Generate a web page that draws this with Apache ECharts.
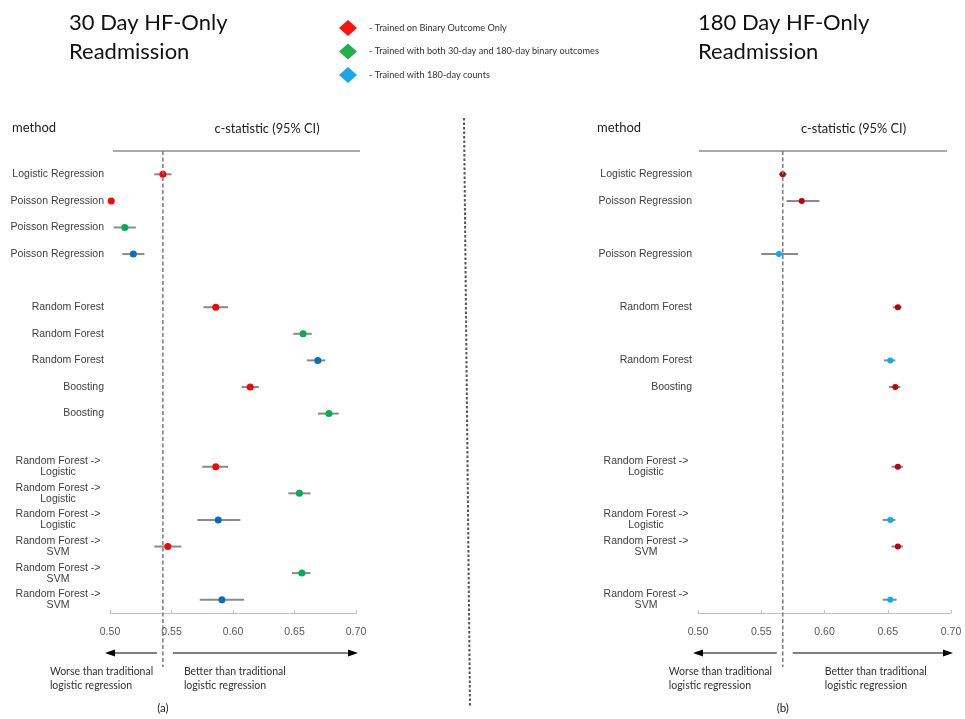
<!DOCTYPE html>
<html>
<head>
<meta charset="utf-8">
<script src="https://cdn.jsdelivr.net/npm/echarts@6/dist/echarts.min.js"></script>
<style>
  html, body { margin: 0; padding: 0; background: #fff; }
  #chart { width: 965px; height: 719px; }
</style>
</head>
<body>
<div id="chart"></div>
<script>
// Row labels (top to bottom) for each panel; '' marks an empty spacer row
const rows30 = [
  'Logistic Regression', 'Poisson Regression', 'Poisson Regression', 'Poisson Regression', '',
  'Random Forest', 'Random Forest', 'Random Forest', 'Boosting', 'Boosting', '',
  'Random Forest ->\nLogistic', 'Random Forest ->\nLogistic', 'Random Forest ->\nLogistic',
  'Random Forest ->\nSVM', 'Random Forest ->\nSVM', 'Random Forest ->\nSVM'
];
const rows180 = [
  'Logistic Regression', 'Poisson Regression', '', 'Poisson Regression', '',
  'Random Forest', '', 'Random Forest', 'Boosting', '', '',
  'Random Forest ->\nLogistic', '', 'Random Forest ->\nLogistic',
  'Random Forest ->\nSVM', '', 'Random Forest ->\nSVM'
];

// Each entry: [row index, c-statistic, lower 95% CI, upper 95% CI]
const binary30 = [
  [0, 0.543, 0.536, 0.550],
  [1, 0.501, 0.501, 0.501],
  [5, 0.586, 0.576, 0.596],
  [8, 0.614, 0.607, 0.621],
  [11, 0.586, 0.575, 0.596],
  [14, 0.547, 0.536, 0.558]
];
const both30 = [
  [2, 0.512, 0.503, 0.521],
  [6, 0.657, 0.649, 0.664],
  [9, 0.678, 0.669, 0.686],
  [12, 0.654, 0.645, 0.663],
  [15, 0.656, 0.648, 0.663]
];
const counts30 = [
  [3, 0.519, 0.510, 0.528],
  [7, 0.669, 0.660, 0.675],
  [13, 0.588, 0.571, 0.606],
  [16, 0.591, 0.573, 0.609]
];
const binary180 = [
  [0, 0.567, 0.564, 0.570],
  [1, 0.582, 0.570, 0.596],
  [5, 0.658, 0.654, 0.661],
  [8, 0.656, 0.651, 0.660],
  [11, 0.658, 0.653, 0.662],
  [14, 0.658, 0.653, 0.662]
];
const counts180 = [
  [3, 0.564, 0.550, 0.579],
  [7, 0.652, 0.647, 0.656],
  [13, 0.652, 0.646, 0.656],
  [16, 0.652, 0.646, 0.657]
];

const xTicks = [0.50, 0.55, 0.60, 0.65, 0.70];
const legendNames = [
  '- Trained on Binary Outcome Only',
  '- Trained with both 30-day and 180-day binary outcomes',
  '- Trained with 180-day counts'
];
const legendColors = ['#ff1010', '#22b04a', '#1aa7e6'];

const LABEL_FONT = 'Liberation Sans, Arial, sans-serif';
const TEXT_FONT = 'Lato, "Open Sans", sans-serif';

const chart = echarts.init(document.getElementById('chart'));

function catAxis(gridIndex, labels) {
  return {
    type: 'category', gridIndex, data: labels, inverse: true,
    axisLine: { show: false }, axisTick: { show: false }, splitLine: { show: false },
    axisLabel: {
      margin: 6, fontFamily: LABEL_FONT, fontSize: 10.5, color: '#404040', lineHeight: 11,
      formatter: v => v.indexOf('\n') >= 0
        ? v.split('\n').map(s => '{c|' + s + '}').join('\n')
        : v,
      rich: { c: { width: 92, align: 'center', fontFamily: LABEL_FONT, fontSize: 10.5, color: '#404040', lineHeight: 11 } }
    }
  };
}
function valAxis(gridIndex) {
  return {
    type: 'value', gridIndex, min: xTicks[0], max: xTicks[xTicks.length - 1],
    interval: xTicks[1] - xTicks[0],
    axisLine: { show: true, lineStyle: { color: '#c0c0c0', width: 1 } },
    axisTick: { show: true, inside: true, length: 3, lineStyle: { color: '#c0c0c0' } },
    splitLine: { show: false },
    axisLabel: { margin: 14, fontFamily: LABEL_FONT, fontSize: 10.5, color: '#595959', formatter: v => v.toFixed(2) }
  };
}
function ciSeries(name, data, axisIdx) {
  return {
    type: 'custom', name: name + ' CI', xAxisIndex: axisIdx, yAxisIndex: axisIdx,
    data: data.map(d => [d[2], d[3], d[0]]),
    encode: { x: [0, 1], y: 2 }, silent: true, z: 2,
    renderItem: (params, api) => {
      const a = api.coord([api.value(0), api.value(2)]);
      const b = api.coord([api.value(1), api.value(2)]);
      return { type: 'line', shape: { x1: a[0], y1: a[1], x2: b[0], y2: b[1] },
               style: { stroke: '#8a8a8a', lineWidth: 2 } };
    }
  };
}
function pointSeries(name, data, axisIdx, color, size) {
  return {
    type: 'scatter', name, xAxisIndex: axisIdx, yAxisIndex: axisIdx, z: 3,
    symbol: 'circle', symbolSize: size,
    itemStyle: { color, opacity: 1 },
    data: data.map(d => [d[1], d[0]])
  };
}

chart.setOption({
  animation: false,
  title: [
    { text: '30 Day HF-Only\nReadmission', left: 64, top: 3,
      textStyle: { fontFamily: TEXT_FONT, fontSize: 22, fontWeight: 'normal', color: '#111', lineHeight: 29 } },
    { text: '180 Day HF-Only\nReadmission', left: 693, top: 3,
      textStyle: { fontFamily: TEXT_FONT, fontSize: 22, fontWeight: 'normal', color: '#111', lineHeight: 29 } }
  ],
  legend: {
    orient: 'vertical', left: 334, top: 15, itemGap: 7.5, itemWidth: 18, itemHeight: 16,
    icon: 'diamond', selectedMode: false,
    textStyle: { fontFamily: TEXT_FONT, fontSize: 9.2, color: '#333', padding: [0, 0, 0, 7] },
    data: legendNames.map((n, i) => ({ name: n, itemStyle: { color: legendColors[i] } }))
  },
  grid: [
    { left: 110, width: 246, top: 161, height: 452 },
    { left: 698, width: 253, top: 161, height: 452 }
  ],
  xAxis: [valAxis(0), valAxis(1)],
  yAxis: [catAxis(0, rows30), catAxis(1, rows180)],
  series: [
    ciSeries(legendNames[0], binary30, 0),
    ciSeries(legendNames[1], both30, 0),
    ciSeries(legendNames[2], counts30, 0),
    pointSeries(legendNames[0], binary30, 0, '#ff0000', 7),
    pointSeries(legendNames[1], both30, 0, '#00b050', 7),
    pointSeries(legendNames[2], counts30, 0, '#0070c0', 7),
    ciSeries('180-day binary', binary180, 1),
    ciSeries('180-day counts', counts180, 1),
    pointSeries('180-day binary', binary180, 1, '#c00000', 6),
    pointSeries('180-day counts', counts180, 1, '#00b0f0', 6)
  ]
});

// Reference lines, headers, arrows and captions placed from each panel's axes
function panelGraphics(gridIndex, refValue, caption, methodX, ruleX1, ruleX2, betterDx) {
  const p0 = chart.convertToPixel({ gridIndex }, [xTicks[0], 0]);
  const p1 = chart.convertToPixel({ gridIndex }, [xTicks[xTicks.length - 1], 0]);
  const ref = chart.convertToPixel({ gridIndex }, [refValue, 0])[0];
  const x0 = p0[0], x1 = p1[0];
  const arrowY = 653;
  const els = [];
  // header rule
  els.push({ type: 'line', shape: { x1: ruleX1, y1: 151, x2: ruleX2, y2: 151 },
             style: { stroke: '#8c8c8c', lineWidth: 1.5 } });
  els.push({ type: 'text', left: methodX, top: 121, style: { text: 'method', font: '13px ' + TEXT_FONT, fill: '#222' } });
  els.push({ type: 'text', x: (ruleX1 + ruleX2) / 2 + 30.5, y: 129,
             style: { text: 'c-statistic (95% CI)', font: '12.8px ' + TEXT_FONT, fill: '#222', textAlign: 'center', textVerticalAlign: 'middle' } });
  // dashed reference at traditional logistic regression
  els.push({ type: 'line', z: 10, shape: { x1: ref, y1: 151, x2: ref, y2: 667 },
             style: { stroke: '#7a7a7a', lineWidth: 1.5, lineDash: [4, 2.5] } });
  // arrows
  const leftTail = ref - 6, rightTail = ref + 10;
  els.push({ type: 'line', shape: { x1: leftTail, y1: arrowY, x2: x0 + 4, y2: arrowY }, style: { stroke: '#000', lineWidth: 1 } });
  els.push({ type: 'polygon', shape: { points: [[x0 - 5, arrowY], [x0 + 5, arrowY - 3.5], [x0 + 5, arrowY + 3.5]] }, style: { fill: '#000' } });
  els.push({ type: 'line', shape: { x1: rightTail, y1: arrowY, x2: x1 - 2, y2: arrowY }, style: { stroke: '#000', lineWidth: 1 } });
  els.push({ type: 'polygon', shape: { points: [[x1 + 2, arrowY], [x1 - 8, arrowY - 3.5], [x1 - 8, arrowY + 3.5]] }, style: { fill: '#000' } });
  // captions
  els.push({ type: 'text', left: ref - 113 - (gridIndex === 0 ? 0 : 1), top: 665,
             style: { text: 'Worse than traditional\nlogistic regression', font: '10.5px ' + TEXT_FONT, fill: '#333', lineHeight: 14 } });
  els.push({ type: 'text', left: ref + betterDx, top: 665,
             style: { text: 'Better than traditional\nlogistic regression', font: '10.5px ' + TEXT_FONT, fill: '#333', lineHeight: 14 } });
  els.push({ type: 'text', x: ref, y: 708,
             style: { text: caption, font: '11.5px ' + TEXT_FONT, fill: '#222', textAlign: 'center', textVerticalAlign: 'middle' } });
  return els;
}

const graphics = []
  .concat(panelGraphics(0, binary30[0][1], '(a)', 12, 113, 360, 21))
  .concat(panelGraphics(1, binary180[0][1], '(b)', 597, 699, 947, 42));
// dotted divider between the panels
graphics.push({ type: 'line', shape: { x1: 464, y1: 118, x2: 470, y2: 707 },
                style: { stroke: '#555', lineWidth: 2, lineDash: [2.5, 2] } });

chart.setOption({ graphic: graphics });
</script>
</body>
</html>
